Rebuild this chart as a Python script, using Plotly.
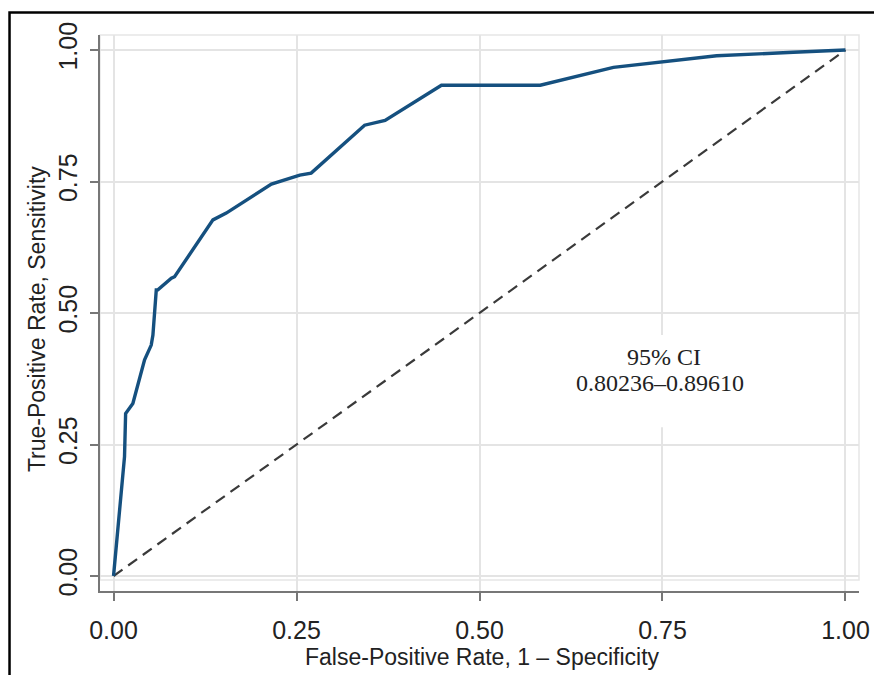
import plotly.graph_objects as go

# ROC curve points (False-positive rate, true-positive rate)
fpr = [0.0, 0.015, 0.0165, 0.0264, 0.0424, 0.0515, 0.0538, 0.0584, 0.0606, 0.079, 0.0834,
       0.1358, 0.154, 0.2157, 0.2545, 0.270, 0.343, 0.371, 0.448, 0.583, 0.683, 0.751,
       0.824, 0.929, 1.0]
tpr = [0.0, 0.227, 0.309, 0.328, 0.411, 0.439, 0.458, 0.544, 0.544, 0.566, 0.569,
       0.677, 0.690, 0.745, 0.762, 0.766, 0.857, 0.866, 0.933, 0.933, 0.967, 0.978,
       0.989, 0.9956, 1.0]

ref_x = [0.0, 1.0]
ref_y = [0.0, 1.0]

tick_vals = [0.0, 0.25, 0.5, 0.75, 1.0]
tick_text = ["0.00", "0.25", "0.50", "0.75", "1.00"]

x_title = "False-Positive Rate, 1 – Specificity"
y_title = "True-Positive Rate, Sensitivity"
ci_title = "95% CI"
ci_range = "0.80236–0.89610"

fig = go.Figure()
fig.add_trace(go.Scatter(x=ref_x, y=ref_y, mode="lines",
                         line=dict(color="#3a3a3a", width=2.2, dash="11px,7px"),
                         hoverinfo="skip", showlegend=False))
fig.add_trace(go.Scatter(x=fpr, y=tpr, mode="lines",
                         line=dict(color="#15507f", width=3.4),
                         showlegend=False))

axis_common = dict(
    tickmode="array", tickvals=tick_vals, ticktext=tick_text,
    showgrid=True, gridcolor="#e4e4e4", gridwidth=2,
    zeroline=False, showline=True, linecolor="#777777", linewidth=1.5,
    ticks="outside", ticklen=8, tickcolor="#777777", tickwidth=1.5,
    tickfont=dict(family="Liberation Sans, Arial", size=25, color="#222222"),
    automargin=False,
)

fig.update_xaxes(range=[-0.0185, 1.0185], ticklabelstandoff=8, **axis_common)
fig.update_yaxes(range=[-0.0285, 1.0285], tickangle=-90, ticklabelstandoff=3, **axis_common)

# white box behind the CI text (hides gridlines)
fig.add_shape(type="rect", xref="x", yref="y", x0=0.63, x1=0.87, y0=0.283, y1=0.458,
              fillcolor="white", line=dict(width=0), layer="between")
# light plot region frame
fig.add_shape(type="rect", xref="paper", yref="paper", x0=0.0, x1=1.0, y0=0.02, y1=1.0,
              line=dict(color="#e6e6e6", width=1.5), layer="below")
# outer black frame
fig.add_shape(type="rect", xref="paper", yref="paper", x0=-0.1192, x1=1.05, y0=-0.25, y1=1.0405,
              line=dict(color="black", width=2.5), layer="above")

title_font = dict(family="Liberation Sans, Arial", size=23, color="#222222")
fig.add_annotation(x=0.5046, y=-0.1187, xref="paper", yref="paper", text=x_title,
                   showarrow=False, xanchor="center", yanchor="middle", font=title_font)
fig.add_annotation(x=-0.083, y=0.489, xref="paper", yref="paper", text=y_title,
                   showarrow=False, xanchor="center", yanchor="middle", textangle=-90,
                   font=title_font)

ci_font = dict(family="Liberation Serif, Times New Roman", size=24, color="#222222")
fig.add_annotation(x=0.752, y=0.417, xref="x", yref="y", text=ci_title, showarrow=False,
                   font=ci_font)
fig.add_annotation(x=0.746, y=0.366, xref="x", yref="y", text=ci_range, showarrow=False,
                   font=ci_font)

fig.update_layout(width=874, height=675, margin=dict(l=100, r=15, t=35, b=84),
                  paper_bgcolor="white", plot_bgcolor="white")

fig.write_html("out.html", config={"displayModeBar": False},
               post_script="document.body.style.margin='0';document.body.style.overflow='hidden';")
